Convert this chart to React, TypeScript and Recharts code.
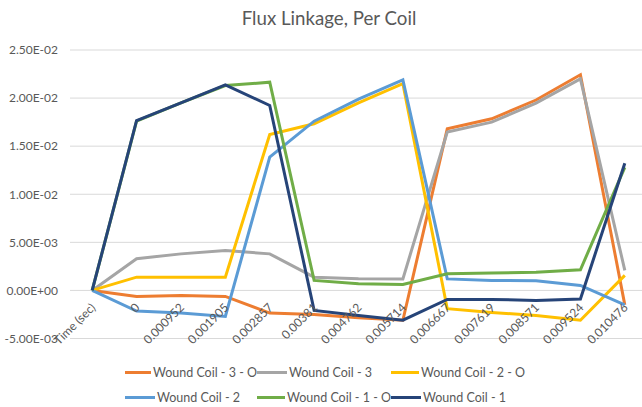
import React from "react";
import { LineChart, Line, XAxis, YAxis, CartesianGrid } from "recharts";

const categories = ["Time (sec)", "0", "0.000952", "0.001905", "0.002857", "0.00381", "0.004762", "0.005714", "0.006667", "0.007619", "0.008571", "0.009524", "0.010476"];

const coil3O = [0, -0.00062, -0.00052, -0.00062, -0.00236, -0.0025, -0.00284, -0.0031, 0.0168, 0.01785, 0.0198, 0.02242, -0.0015];
const coil3 = [0, 0.0033, 0.0038, 0.00416, 0.0038, 0.00138, 0.00121, 0.0012, 0.01646, 0.0175, 0.01947, 0.022, 0.00208];
const coil2O = [0, 0.00138, 0.00138, 0.00138, 0.01622, 0.01733, 0.0195, 0.0215, -0.0019, -0.0023, -0.0026, -0.0031, 0.00156];
const coil2 = [0, -0.00215, -0.00236, -0.0027, 0.01386, 0.0176, 0.0199, 0.0219, 0.0012, 0.00104, 0.001, 0.00052, -0.0015];
const coil1O = [0, 0.0176, 0.0195, 0.0213, 0.02165, 0.00104, 0.0007, 0.00062, 0.00173, 0.0018, 0.0019, 0.00215, 0.0128];
const coil1 = [0, 0.01767, 0.0195, 0.02138, 0.01923, -0.00208, -0.0026, -0.0031, -0.00094, -0.00094, -0.00104, -0.0009, 0.01323];

const yTicks = [-0.005, 0, 0.005, 0.01, 0.015, 0.02, 0.025];

const seriesList = [
  { key: "c3o", name: "Wound Coil - 3 - O", values: coil3O, color: "#ED7D31" },
  { key: "c3", name: "Wound Coil - 3", values: coil3, color: "#A5A5A5" },
  { key: "c2o", name: "Wound Coil - 2 - O", values: coil2O, color: "#FFC000" },
  { key: "c2", name: "Wound Coil - 2", values: coil2, color: "#5B9BD5" },
  { key: "c1o", name: "Wound Coil - 1 - O", values: coil1O, color: "#70AD47" },
  { key: "c1", name: "Wound Coil - 1", values: coil1, color: "#264478" },
];

const data = categories.map((c, i) => {
  const row: any = { cat: c };
  seriesList.forEach((s) => (row[s.key] = s.values[i]));
  return row;
});

const FONT = "Lato, 'Open Sans', sans-serif";
const TEXT = "#595959";
const CHART_W = 650;
const CHART_H = 407;
const TOP = 50;
const BOTTOM = 48.5;
const X_AXIS_H = 20;
const Y_MIN = -0.005;
const Y_MAX = 0.025;
const PLOT_H = CHART_H - TOP - BOTTOM - X_AXIS_H;
const zeroY = TOP + (PLOT_H * (Y_MAX - 0)) / (Y_MAX - Y_MIN);

function fmtExp(v: number) {
  const [m, e] = v.toExponential(2).split("e");
  const n = parseInt(e, 10);
  return m + "E" + (n < 0 ? "-" : "+") + String(Math.abs(n)).padStart(2, "0");
}

const XTick = (props: any) => {
  const { x, payload } = props;
  const tx = x + 1;
  const ty = zeroY + 15;
  return (
    <text
      x={tx}
      y={ty}
      dy="0.35em"
      textAnchor="end"
      transform={`rotate(-45, ${tx}, ${ty})`}
      fontSize={12}
      fill={TEXT}
      fontFamily={FONT}
    >
      {payload.value}
    </text>
  );
};

const legendCols = [
  [seriesList[0], seriesList[3]],
  [seriesList[1], seriesList[4]],
  [seriesList[2], seriesList[5]],
];

export default function App() {
  return (
    <div style={{ position: "absolute", left: 0, top: 0, width: 642, height: 407, overflow: "hidden", background: "#fff", fontFamily: FONT }}>
      <div style={{ position: "absolute", left: 0, width: 658, top: 6, textAlign: "center", fontSize: 18.7, color: TEXT, lineHeight: "24px" }}>
        Flux Linkage, Per Coil
      </div>
      <div style={{ position: "absolute", left: 0, top: 0 }}>
        <LineChart width={CHART_W} height={CHART_H} data={data} margin={{ top: TOP, right: 3, left: 0, bottom: BOTTOM }}>
          <CartesianGrid vertical={false} stroke="#D9D9D9" strokeWidth={1} />
          <XAxis dataKey="cat" scale="band" height={X_AXIS_H} axisLine={false} tickLine={false} interval={0} tick={<XTick />} />
          <YAxis
            width={70}
            domain={[Y_MIN, Y_MAX]}
            ticks={yTicks}
            tickFormatter={fmtExp}
            axisLine={false}
            tickLine={false}
            tickSize={0}
            tickMargin={12}
            tick={{ fontSize: 12, fill: TEXT, fontFamily: FONT }}
          />
          {seriesList.map((s) => (
            <Line
              key={s.key}
              type="linear"
              dataKey={s.key}
              name={s.name}
              stroke={s.color}
              strokeWidth={3}
              dot={false}
              isAnimationActive={false}
            />
          ))}
        </LineChart>
      </div>
      <div style={{ position: "absolute", top: 360, left: 125, display: "flex" }}>
        {legendCols.map((col, ci) => (
          <div key={ci} style={{ width: ci === 0 ? 132 : 134 }}>
            {col.map((s) => (
              <div key={s.key} style={{ display: "flex", alignItems: "center", height: 25 }}>
                <div style={{ width: 30, height: 3, background: s.color, marginRight: 2 }} />
                <span style={{ fontSize: 12.5, color: TEXT, whiteSpace: "nowrap" }}>{s.name}</span>
              </div>
            ))}
          </div>
        ))}
      </div>
    </div>
  );
}
